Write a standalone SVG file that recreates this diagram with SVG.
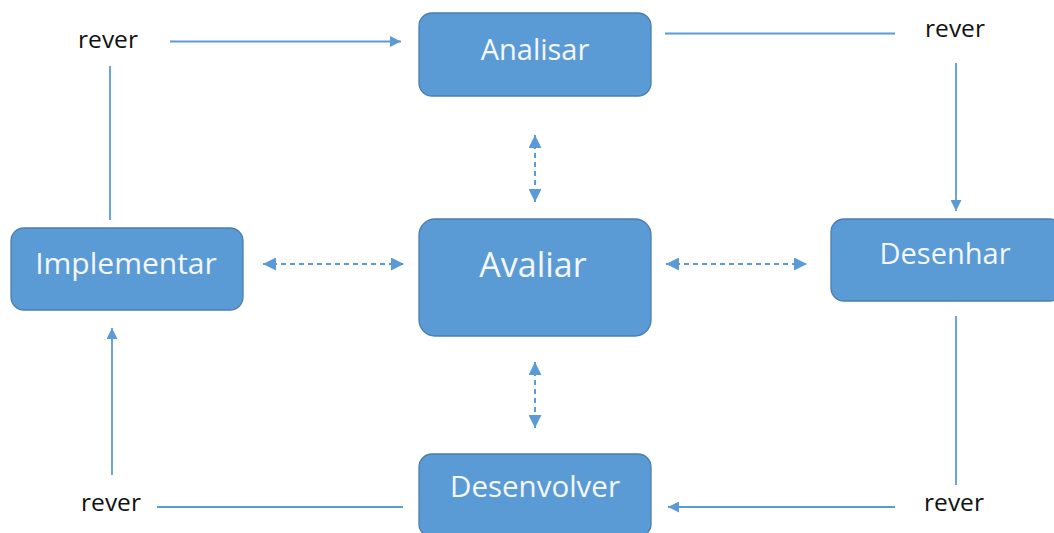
<svg xmlns="http://www.w3.org/2000/svg" width="1054" height="533" viewBox="0 0 1054 533">
  <style>
    .box { fill: #5b9bd5; stroke: #4a7eb0; stroke-width: 1.3; }
    .lbl { font-family: "Open Sans", "Noto Sans", sans-serif; fill: #f4f7fb; text-anchor: middle; }
    .rev { font-family: "Open Sans", "Noto Sans", sans-serif; fill: #111111; font-size: 24.5px; text-anchor: middle; }
    .ln { stroke: #5b9bd5; stroke-width: 1.8; fill: none; }
    .dash { stroke: #5b9bd5; stroke-width: 2; fill: none; stroke-dasharray: 5 4; }
  </style>
  <defs>
    <marker id="ah" viewBox="0 0 10 10" refX="10" refY="5" markerWidth="11" markerHeight="11" markerUnits="userSpaceOnUse" orient="auto-start-reverse">
      <path d="M0,0 L10,5 L0,10 z" fill="#5b9bd5"/>
    </marker>
    <marker id="ad" viewBox="0 0 10 10" refX="10" refY="5" markerWidth="13" markerHeight="13" markerUnits="userSpaceOnUse" orient="auto-start-reverse">
      <path d="M0,0 L10,5 L0,10 z" fill="#5b9bd5"/>
    </marker>
  </defs>

  <g id="connectors">
    <line class="ln" x1="170" y1="41.5" x2="401" y2="41.5" marker-end="url(#ah)"/>
    <line class="ln" x1="110" y1="66" x2="110" y2="220"/>
    <line class="ln" x1="403" y1="507" x2="157" y2="507"/>
    <line class="ln" x1="112" y1="475" x2="112" y2="328" marker-end="url(#ah)"/>
    <line class="ln" x1="665" y1="33.5" x2="895" y2="33.5"/>
    <line class="ln" x1="956" y1="63" x2="956" y2="211" marker-end="url(#ah)"/>
    <line class="ln" x1="956" y1="316" x2="956" y2="485"/>
    <line class="ln" x1="895" y1="507" x2="668" y2="507" marker-end="url(#ah)"/>
    <line class="dash" x1="535" y1="135" x2="535" y2="202" marker-start="url(#ad)" marker-end="url(#ad)"/>
    <line class="dash" x1="535" y1="362" x2="535" y2="428" marker-start="url(#ad)" marker-end="url(#ad)"/>
    <line class="dash" x1="263" y1="264" x2="404" y2="264" marker-start="url(#ad)" marker-end="url(#ad)"/>
    <line class="dash" x1="666" y1="264" x2="807" y2="264" marker-start="url(#ad)" marker-end="url(#ad)"/>
  </g>

  <g id="node-analisar">
    <rect class="box" x="419" y="13" width="232" height="83" rx="13"/>
    <text class="lbl" x="535" y="60" font-size="29">Analisar</text>
  </g>
  <g id="node-avaliar">
    <rect class="box" x="419" y="219" width="232" height="117" rx="16"/>
    <text class="lbl" x="533" y="277" font-size="34">Avaliar</text>
  </g>
  <g id="node-implementar">
    <rect class="box" x="11" y="228" width="232" height="82" rx="13"/>
    <text class="lbl" x="126" y="274" font-size="30">Implementar</text>
  </g>
  <g id="node-desenhar">
    <rect class="box" x="831" y="219" width="232" height="82" rx="13"/>
    <text class="lbl" x="945" y="264" font-size="29">Desenhar</text>
  </g>
  <g id="node-desenvolver">
    <rect class="box" x="419" y="454" width="232" height="83" rx="13"/>
    <text class="lbl" x="535" y="497" font-size="29.5">Desenvolver</text>
  </g>

  <g id="labels">
    <text class="rev" x="108" y="48">rever</text>
    <text class="rev" x="955" y="37">rever</text>
    <text class="rev" x="111" y="511">rever</text>
    <text class="rev" x="954" y="511">rever</text>
  </g>
</svg>
